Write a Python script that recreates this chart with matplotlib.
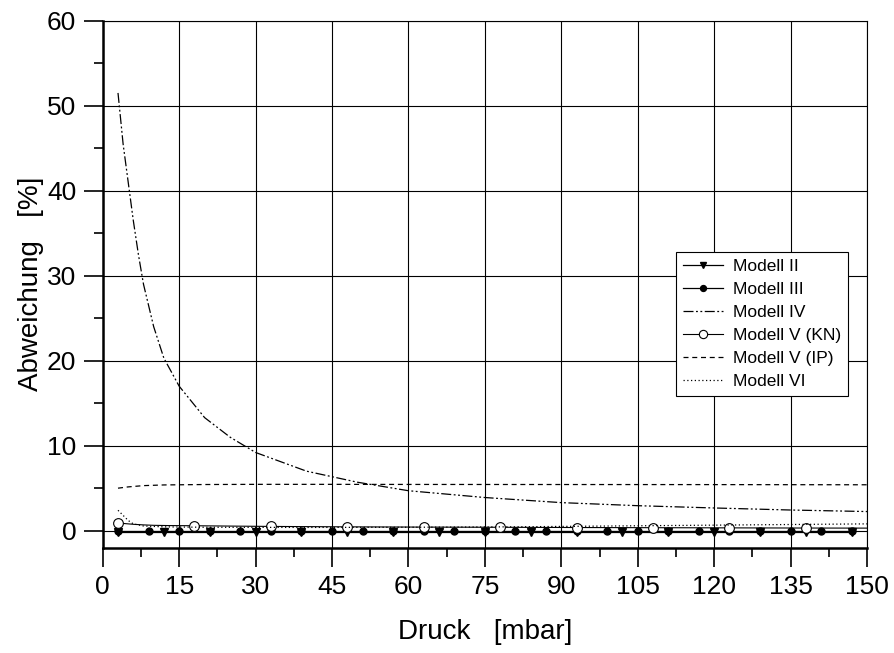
import matplotlib
matplotlib.use("Agg")
import matplotlib.pyplot as plt
from matplotlib.ticker import MultipleLocator

plt.rcParams['font.family'] = ['Liberation Sans', 'DejaVu Sans']

# ---- data ----
x_ii = [3, 12, 21, 30, 39, 48, 57, 66, 75, 84, 93, 102, 111, 120, 129, 138, 147]
y_ii = [-0.1, -0.1, -0.1, -0.1, -0.1, -0.1, -0.1, -0.1, -0.1, -0.1, -0.1, -0.1, -0.1, -0.1, -0.1, -0.1, -0.1]

x_iii = [3, 9, 15, 21, 27, 33, 39, 45, 51, 57, 63, 69, 75, 81, 87, 93, 99, 105, 111, 117, 123, 129, 135, 141, 147]
y_iii = [0.0, 0.0, 0.0, 0.0, 0.0, 0.0, 0.0, 0.0, 0.0, 0.0, 0.0, 0.0, 0.0, 0.0, 0.0, 0.0, 0.0, 0.0, 0.0, 0.0, 0.0, 0.0, 0.0, 0.0, 0.0]

x_iv = [3, 4, 5, 6, 7, 8, 10, 12, 15, 20, 25, 30, 40, 50, 60, 75, 90, 105, 120, 135, 150]
y_iv = [51.5, 45.5, 41.0, 36.5, 32.5, 29.0, 24.0, 20.3, 17.0, 13.3, 11.0, 9.2, 7.0, 5.7, 4.7, 3.9, 3.3, 2.94, 2.67, 2.43, 2.25]

x_kn = [3, 4, 5, 6, 8, 10, 13, 18, 25, 33, 48, 63, 78, 93, 108, 123, 138, 150]
y_kn = [0.95, 0.85, 0.8, 0.75, 0.68, 0.63, 0.6, 0.58, 0.54, 0.5, 0.45, 0.42, 0.4, 0.37, 0.35, 0.33, 0.31, 0.3]
x_kn_markers = [3, 18, 33, 48, 63, 78, 93, 108, 123, 138]

x_ip = [3, 5, 8, 12, 20, 30, 45, 60, 90, 120, 150]
y_ip = [5.0, 5.15, 5.3, 5.38, 5.43, 5.45, 5.45, 5.44, 5.43, 5.42, 5.4]

x_vi = [3, 4, 5, 6, 8, 12, 20, 40, 60, 80, 100, 120, 150]
y_vi = [2.4, 1.8, 1.2, 0.8, 0.55, 0.45, 0.4, 0.38, 0.4, 0.45, 0.55, 0.65, 0.8]

labels = ['Modell II', 'Modell III', 'Modell IV', 'Modell V (KN)', 'Modell V (IP)', 'Modell VI']

x_ticks = [0, 15, 30, 45, 60, 75, 90, 105, 120, 135, 150]
y_ticks = [0, 10, 20, 30, 40, 50, 60]

# ---- figure ----
fig = plt.figure(figsize=(8.94, 6.53), dpi=100)
ax = fig.add_axes([0.1149, 0.1613, 0.8549, 0.8070])

ax.set_xlim(0, 150)
ax.set_ylim(-2, 60)

ax.grid(True, which='major', color='black', linewidth=0.8)
ax.set_axisbelow(True)

ax.plot(x_ii, y_ii, color='black', lw=0.9, marker='v', ms=5.5, mfc='black', mec='black', label=labels[0])
ax.plot(x_iii, y_iii, color='black', lw=0.9, marker='o', ms=5, mfc='black', mec='black', label=labels[1])
ax.plot(x_iv, y_iv, color='black', lw=0.9, linestyle=(0, (8, 2, 1.5, 2, 1.5, 2)), label=labels[2])
kn_idx = [x_kn.index(v) for v in x_kn_markers]
ax.plot(x_kn, y_kn, color='black', lw=0.8, marker='o', ms=7, mfc='white', mec='black', mew=0.8,
        markevery=kn_idx, label=labels[3])
ax.plot(x_ip, y_ip, color='black', lw=0.9, linestyle=(0, (4, 3)), label=labels[4])
ax.plot(x_vi, y_vi, color='black', lw=0.9, linestyle=(0, (1, 2)), label=labels[5])

ax.set_xticks(x_ticks)
ax.set_yticks(y_ticks)
ax.xaxis.set_minor_locator(MultipleLocator(7.5))
ax.yaxis.set_minor_locator(MultipleLocator(5))
ax.tick_params(which='major', direction='out', length=14, width=1.2, labelsize=19, pad=5, colors='black')
ax.tick_params(which='minor', direction='out', length=6.5, width=1.2)
ax.tick_params(axis='x', which='major', pad=6)

for s in ['left', 'bottom']:
    ax.spines[s].set_linewidth(1.8)
for s in ['top', 'right']:
    ax.spines[s].set_linewidth(0.8)

ax.set_xlabel('Druck   [mbar]', fontsize=20, labelpad=14)
ax.set_ylabel('Abweichung   [%]', fontsize=20, labelpad=2)

leg = ax.legend(loc='upper left', bbox_to_anchor=(0.750, 0.561), fontsize=12.5,
                frameon=True, fancybox=False, framealpha=1, edgecolor='black',
                handlelength=2.3, handletextpad=0.6, labelspacing=0.45, borderpad=0.4,
                borderaxespad=0, markerscale=0.85)
leg.get_frame().set_linewidth(0.8)

fig.savefig('out.png', dpi=100)
